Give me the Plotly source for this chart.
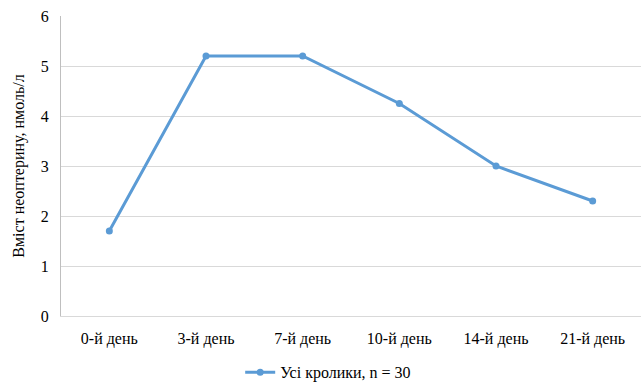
import plotly.graph_objects as go

categories = ["0-й день", "3-й день", "7-й день", "10-й день", "14-й день", "21-й день"]
values = [1.7, 5.2, 5.2, 4.25, 3.0, 2.3]
series_name = "Усі кролики, n = 30"
y_title = "Вміст неоптерину, нмоль/л"

FONT = "Liberation Serif"
fig = go.Figure()
fig.add_trace(go.Scatter(
    x=categories, y=values, name=series_name,
    mode="lines+markers",
    line=dict(color="#5B9BD5", width=3),
    marker=dict(color="#5B9BD5", size=7),
))

fig.update_layout(
    width=641, height=383,
    margin=dict(l=61, r=0, t=16, b=67, autoexpand=False),
    paper_bgcolor="white", plot_bgcolor="white",
    font=dict(family=FONT, size=16, color="#000000"),
    showlegend=True,
    legend=dict(orientation="h", x=0.512, xanchor="center", xref="container",
                y=0.028, yanchor="middle", yref="container",
                font=dict(family=FONT, size=16, color="#000000")),
    xaxis=dict(
        type="category", showgrid=False, showline=True, linecolor="#D9D9D9", linewidth=1,
        ticks="", tickfont=dict(family=FONT, size=16, color="#000000"),
        range=[-0.5, 5.5], automargin=False, ticklabelstandoff=8,
    ),
    yaxis=dict(
        range=[0, 6], dtick=1, showgrid=True, gridcolor="#D9D9D9", gridwidth=1,
        showline=True, linecolor="#BFBFBF", linewidth=1, zeroline=False,
        ticks="", tickfont=dict(family=FONT, size=16, color="#000000"),
        ticklabelstandoff=8,
        title=dict(text=y_title, font=dict(family=FONT, size=16, color="#000000"), standoff=12),
        automargin=False,
    ),
)
fig.write_html("out.html", config={"displayModeBar": False},
               post_script="document.body.style.margin='0';document.body.style.padding='0';")
